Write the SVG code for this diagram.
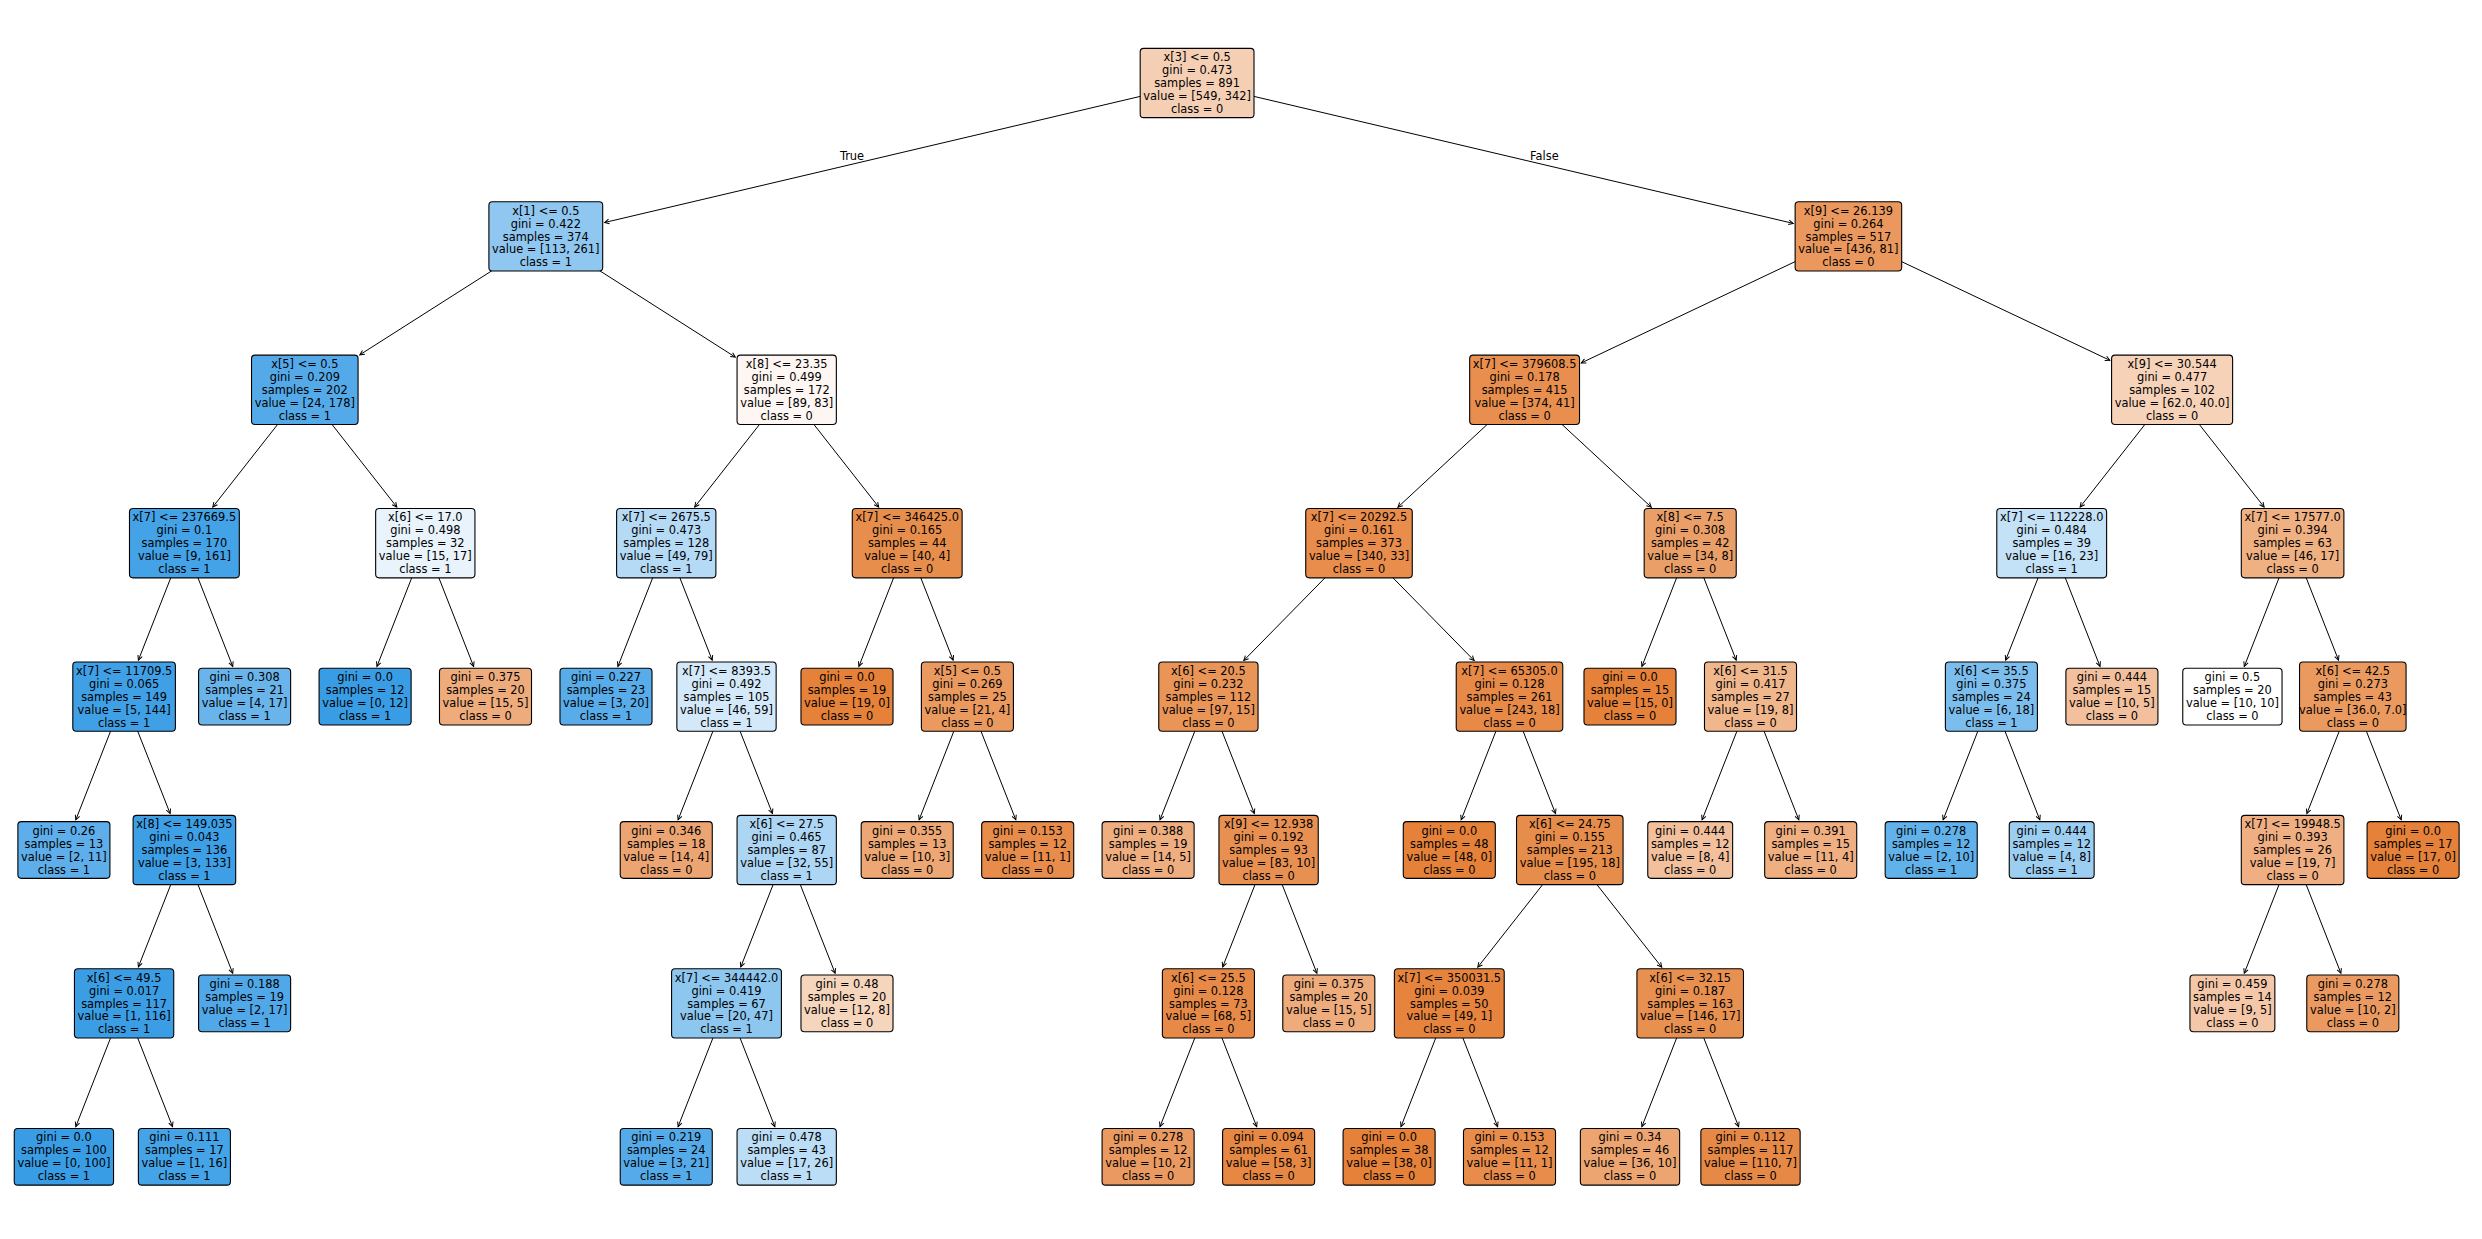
<svg xmlns="http://www.w3.org/2000/svg" width="2482" height="1239" viewBox="0 0 2482 1239">
<defs>
<style>
text{font-family:"DejaVu Sans","Liberation Sans",sans-serif;font-size:11.4px;text-anchor:middle;fill:#000}
rect.n{stroke:#000;stroke-width:1.1}
#edges line{stroke:#000;stroke-width:1;fill:none;marker-end:url(#ah)}
</style>
<marker id="ah" markerUnits="userSpaceOnUse" viewBox="-6 -3.5 7 7" markerWidth="7" markerHeight="7" refX="0" refY="0" orient="auto" overflow="visible">
<path d="M-4.56,-2.28 L0,0 L-4.56,2.28" fill="none" stroke="#000" stroke-width="1"/>
</marker>
</defs>
<rect x="0" y="0" width="2482" height="1239" fill="#fff"/>
<g id="edges">
<line x1="1197.1" y1="83" x2="604.65" y2="222.5"/>
<line x1="1197.1" y1="83" x2="1793.2" y2="223.4"/>
<line x1="545.8" y1="236.4" x2="359.8" y2="354.8"/>
<line x1="545.8" y1="236.4" x2="735.3" y2="357.1"/>
<line x1="304.8" y1="389.8" x2="212.8" y2="507.0"/>
<line x1="304.8" y1="389.8" x2="396.8" y2="507.0"/>
<line x1="786.7" y1="389.8" x2="694.7" y2="507.0"/>
<line x1="786.7" y1="389.8" x2="878.7" y2="507.0"/>
<line x1="1524.6" y1="389.8" x2="1397.9" y2="507.2"/>
<line x1="1524.6" y1="389.8" x2="1651.3" y2="507.2"/>
<line x1="1848.4" y1="236.4" x2="1581.3" y2="362.9"/>
<line x1="1848.4" y1="236.4" x2="2109.8" y2="360.3"/>
<line x1="2172.1" y1="389.8" x2="2080.1" y2="507.0"/>
<line x1="2172.1" y1="389.8" x2="2264.1" y2="507.0"/>
<line x1="184.4" y1="543.2" x2="138.4" y2="660.1"/>
<line x1="184.4" y1="543.2" x2="232.7" y2="666.4"/>
<line x1="425.3" y1="543.2" x2="376.96" y2="666.4"/>
<line x1="425.3" y1="543.2" x2="473.6" y2="666.4"/>
<line x1="666.25" y1="543.2" x2="617.9" y2="666.4"/>
<line x1="666.25" y1="543.2" x2="712.2" y2="660.1"/>
<line x1="907.2" y1="543.2" x2="858.9" y2="666.4"/>
<line x1="907.2" y1="543.2" x2="953.1" y2="660.1"/>
<line x1="1359.0" y1="543.2" x2="1243.8" y2="660.5"/>
<line x1="1359.0" y1="543.2" x2="1474.1" y2="660.5"/>
<line x1="1690.2" y1="543.2" x2="1641.9" y2="666.4"/>
<line x1="1690.2" y1="543.2" x2="1736.2" y2="660.1"/>
<line x1="2051.7" y1="543.2" x2="2005.7" y2="660.1"/>
<line x1="2051.7" y1="543.2" x2="2100.0" y2="666.4"/>
<line x1="2292.6" y1="543.2" x2="2244.3" y2="666.4"/>
<line x1="2292.6" y1="543.2" x2="2338.5" y2="660.1"/>
<line x1="124.1" y1="696.6" x2="75.8" y2="819.8"/>
<line x1="124.1" y1="696.6" x2="170.1" y2="813.5"/>
<line x1="726.5" y1="696.6" x2="678.1" y2="819.8"/>
<line x1="726.5" y1="696.6" x2="772.4" y2="813.5"/>
<line x1="967.4" y1="696.6" x2="919.1" y2="819.8"/>
<line x1="967.4" y1="696.6" x2="1015.8" y2="819.8"/>
<line x1="1208.4" y1="696.6" x2="1160.0" y2="819.8"/>
<line x1="1208.4" y1="696.6" x2="1254.3" y2="813.5"/>
<line x1="1509.5" y1="696.6" x2="1461.2" y2="819.8"/>
<line x1="1509.5" y1="696.6" x2="1555.5" y2="813.5"/>
<line x1="1750.5" y1="696.6" x2="1702.1" y2="819.8"/>
<line x1="1750.5" y1="696.6" x2="1798.8" y2="819.8"/>
<line x1="1991.4" y1="696.6" x2="1943.1" y2="819.8"/>
<line x1="1991.4" y1="696.6" x2="2039.8" y2="819.8"/>
<line x1="2352.8" y1="696.6" x2="2306.9" y2="813.5"/>
<line x1="2352.8" y1="696.6" x2="2401.2" y2="819.8"/>
<line x1="184.4" y1="850" x2="138.4" y2="966.9"/>
<line x1="184.4" y1="850" x2="232.7" y2="973.2"/>
<line x1="786.7" y1="850" x2="740.8" y2="966.9"/>
<line x1="786.7" y1="850" x2="835.1" y2="973.2"/>
<line x1="1268.6" y1="850" x2="1222.7" y2="966.9"/>
<line x1="1268.6" y1="850" x2="1316.9" y2="973.2"/>
<line x1="1569.8" y1="850" x2="1477.8" y2="967.2"/>
<line x1="1569.8" y1="850" x2="1661.7" y2="967.2"/>
<line x1="2292.6" y1="850" x2="2244.3" y2="973.2"/>
<line x1="2292.6" y1="850" x2="2340.9" y2="973.2"/>
<line x1="124.1" y1="1003.4" x2="75.8" y2="1126.6"/>
<line x1="124.1" y1="1003.4" x2="172.5" y2="1126.6"/>
<line x1="726.5" y1="1003.4" x2="678.1" y2="1126.6"/>
<line x1="726.5" y1="1003.4" x2="774.8" y2="1126.6"/>
<line x1="1208.4" y1="1003.4" x2="1160.0" y2="1126.6"/>
<line x1="1208.4" y1="1003.4" x2="1256.7" y2="1126.6"/>
<line x1="1449.3" y1="1003.4" x2="1401.0" y2="1126.6"/>
<line x1="1449.3" y1="1003.4" x2="1497.6" y2="1126.6"/>
<line x1="1690.2" y1="1003.4" x2="1641.9" y2="1126.6"/>
<line x1="1690.2" y1="1003.4" x2="1738.6" y2="1126.6"/>
</g>
<g id="edge-labels">
<text x="864.1" y="160.3" style="text-anchor:end">True</text>
<text x="1530.1" y="160.3" style="text-anchor:start">False</text>
</g>
<g id="nodes">
<g id="n0" transform="translate(1197.1,83)"><rect class="n" x="-56.9" y="-34.65" width="113.8" height="69.3" rx="3.5" fill="#f5cfb4"/><text y="-21.9"><tspan x="0">x[3] &lt;= 0.5</tspan><tspan x="0" dy="13">gini = 0.473</tspan><tspan x="0" dy="13">samples = 891</tspan><tspan x="0" dy="13">value = [549, 342]</tspan><tspan x="0" dy="13">class = 0</tspan></text></g>
<g id="n1" transform="translate(545.8,236.4)"><rect class="n" x="-56.9" y="-34.65" width="113.8" height="69.3" rx="3.5" fill="#8fc7f0"/><text y="-21.9"><tspan x="0">x[1] &lt;= 0.5</tspan><tspan x="0" dy="13">gini = 0.422</tspan><tspan x="0" dy="13">samples = 374</tspan><tspan x="0" dy="13">value = [113, 261]</tspan><tspan x="0" dy="13">class = 1</tspan></text></g>
<g id="n34" transform="translate(1848.4,236.4)"><rect class="n" x="-53.27" y="-34.65" width="106.54" height="69.3" rx="3.5" fill="#ea985e"/><text y="-21.9"><tspan x="0">x[9] &lt;= 26.139</tspan><tspan x="0" dy="13">gini = 0.264</tspan><tspan x="0" dy="13">samples = 517</tspan><tspan x="0" dy="13">value = [436, 81]</tspan><tspan x="0" dy="13">class = 0</tspan></text></g>
<g id="n2" transform="translate(304.8,389.8)"><rect class="n" x="-53.27" y="-34.65" width="106.54" height="69.3" rx="3.5" fill="#54aae9"/><text y="-21.9"><tspan x="0">x[5] &lt;= 0.5</tspan><tspan x="0" dy="13">gini = 0.209</tspan><tspan x="0" dy="13">samples = 202</tspan><tspan x="0" dy="13">value = [24, 178]</tspan><tspan x="0" dy="13">class = 1</tspan></text></g>
<g id="n17" transform="translate(786.7,389.8)"><rect class="n" x="-49.645" y="-34.65" width="99.29" height="69.3" rx="3.5" fill="#fdf6f2"/><text y="-21.9"><tspan x="0">x[8] &lt;= 23.35</tspan><tspan x="0" dy="13">gini = 0.499</tspan><tspan x="0" dy="13">samples = 172</tspan><tspan x="0" dy="13">value = [89, 83]</tspan><tspan x="0" dy="13">class = 0</tspan></text></g>
<g id="n35" transform="translate(1524.6,389.8)"><rect class="n" x="-54.92" y="-34.65" width="109.84" height="69.3" rx="3.5" fill="#e88f4f"/><text y="-21.9"><tspan x="0">x[7] &lt;= 379608.5</tspan><tspan x="0" dy="13">gini = 0.178</tspan><tspan x="0" dy="13">samples = 415</tspan><tspan x="0" dy="13">value = [374, 41]</tspan><tspan x="0" dy="13">class = 0</tspan></text></g>
<g id="n56" transform="translate(2172.1,389.8)"><rect class="n" x="-60.52" y="-34.65" width="121.04" height="69.3" rx="3.5" fill="#f6d2b9"/><text y="-21.9"><tspan x="0">x[9] &lt;= 30.544</tspan><tspan x="0" dy="13">gini = 0.477</tspan><tspan x="0" dy="13">samples = 102</tspan><tspan x="0" dy="13">value = [62.0, 40.0]</tspan><tspan x="0" dy="13">class = 0</tspan></text></g>
<g id="n3" transform="translate(184.4,543.2)"><rect class="n" x="-54.92" y="-34.65" width="109.84" height="69.3" rx="3.5" fill="#44a2e6"/><text y="-21.9"><tspan x="0">x[7] &lt;= 237669.5</tspan><tspan x="0" dy="13">gini = 0.1</tspan><tspan x="0" dy="13">samples = 170</tspan><tspan x="0" dy="13">value = [9, 161]</tspan><tspan x="0" dy="13">class = 1</tspan></text></g>
<g id="n14" transform="translate(425.3,543.2)"><rect class="n" x="-49.645" y="-34.65" width="99.29" height="69.3" rx="3.5" fill="#e8f3fc"/><text y="-21.9"><tspan x="0">x[6] &lt;= 17.0</tspan><tspan x="0" dy="13">gini = 0.498</tspan><tspan x="0" dy="13">samples = 32</tspan><tspan x="0" dy="13">value = [15, 17]</tspan><tspan x="0" dy="13">class = 1</tspan></text></g>
<g id="n18" transform="translate(666.25,543.2)"><rect class="n" x="-49.645" y="-34.65" width="99.29" height="69.3" rx="3.5" fill="#b4daf5"/><text y="-21.9"><tspan x="0">x[7] &lt;= 2675.5</tspan><tspan x="0" dy="13">gini = 0.473</tspan><tspan x="0" dy="13">samples = 128</tspan><tspan x="0" dy="13">value = [49, 79]</tspan><tspan x="0" dy="13">class = 1</tspan></text></g>
<g id="n29" transform="translate(907.2,543.2)"><rect class="n" x="-54.92" y="-34.65" width="109.84" height="69.3" rx="3.5" fill="#e88e4d"/><text y="-21.9"><tspan x="0">x[7] &lt;= 346425.0</tspan><tspan x="0" dy="13">gini = 0.165</tspan><tspan x="0" dy="13">samples = 44</tspan><tspan x="0" dy="13">value = [40, 4]</tspan><tspan x="0" dy="13">class = 0</tspan></text></g>
<g id="n36" transform="translate(1359.0,543.2)"><rect class="n" x="-53.27" y="-34.65" width="106.54" height="69.3" rx="3.5" fill="#e88d4c"/><text y="-21.9"><tspan x="0">x[7] &lt;= 20292.5</tspan><tspan x="0" dy="13">gini = 0.161</tspan><tspan x="0" dy="13">samples = 373</tspan><tspan x="0" dy="13">value = [340, 33]</tspan><tspan x="0" dy="13">class = 0</tspan></text></g>
<g id="n51" transform="translate(1690.2,543.2)"><rect class="n" x="-46.02" y="-34.65" width="92.04" height="69.3" rx="3.5" fill="#eb9f68"/><text y="-21.9"><tspan x="0">x[8] &lt;= 7.5</tspan><tspan x="0" dy="13">gini = 0.308</tspan><tspan x="0" dy="13">samples = 42</tspan><tspan x="0" dy="13">value = [34, 8]</tspan><tspan x="0" dy="13">class = 0</tspan></text></g>
<g id="n57" transform="translate(2051.7,543.2)"><rect class="n" x="-54.92" y="-34.65" width="109.84" height="69.3" rx="3.5" fill="#c3e1f7"/><text y="-21.9"><tspan x="0">x[7] &lt;= 112228.0</tspan><tspan x="0" dy="13">gini = 0.484</tspan><tspan x="0" dy="13">samples = 39</tspan><tspan x="0" dy="13">value = [16, 23]</tspan><tspan x="0" dy="13">class = 1</tspan></text></g>
<g id="n62" transform="translate(2292.6,543.2)"><rect class="n" x="-51.295" y="-34.65" width="102.59" height="69.3" rx="3.5" fill="#efb082"/><text y="-21.9"><tspan x="0">x[7] &lt;= 17577.0</tspan><tspan x="0" dy="13">gini = 0.394</tspan><tspan x="0" dy="13">samples = 63</tspan><tspan x="0" dy="13">value = [46, 17]</tspan><tspan x="0" dy="13">class = 0</tspan></text></g>
<g id="n4" transform="translate(124.1,696.6)"><rect class="n" x="-51.295" y="-34.65" width="102.59" height="69.3" rx="3.5" fill="#40a0e6"/><text y="-21.9"><tspan x="0">x[7] &lt;= 11709.5</tspan><tspan x="0" dy="13">gini = 0.065</tspan><tspan x="0" dy="13">samples = 149</tspan><tspan x="0" dy="13">value = [5, 144]</tspan><tspan x="0" dy="13">class = 1</tspan></text></g>
<g id="n13" transform="translate(244.6,696.6)"><rect class="n" x="-46.02" y="-28.35" width="92.04" height="56.7" rx="3.5" fill="#68b4eb"/><text y="-15.4"><tspan x="0">gini = 0.308</tspan><tspan x="0" dy="13">samples = 21</tspan><tspan x="0" dy="13">value = [4, 17]</tspan><tspan x="0" dy="13">class = 1</tspan></text></g>
<g id="n15" transform="translate(365.1,696.6)"><rect class="n" x="-46.02" y="-28.35" width="92.04" height="56.7" rx="3.5" fill="#399de5"/><text y="-15.4"><tspan x="0">gini = 0.0</tspan><tspan x="0" dy="13">samples = 12</tspan><tspan x="0" dy="13">value = [0, 12]</tspan><tspan x="0" dy="13">class = 1</tspan></text></g>
<g id="n16" transform="translate(485.5,696.6)"><rect class="n" x="-46.02" y="-28.35" width="92.04" height="56.7" rx="3.5" fill="#eeab7b"/><text y="-15.4"><tspan x="0">gini = 0.375</tspan><tspan x="0" dy="13">samples = 20</tspan><tspan x="0" dy="13">value = [15, 5]</tspan><tspan x="0" dy="13">class = 0</tspan></text></g>
<g id="n19" transform="translate(606.0,696.6)"><rect class="n" x="-46.02" y="-28.35" width="92.04" height="56.7" rx="3.5" fill="#57ace9"/><text y="-15.4"><tspan x="0">gini = 0.227</tspan><tspan x="0" dy="13">samples = 23</tspan><tspan x="0" dy="13">value = [3, 20]</tspan><tspan x="0" dy="13">class = 1</tspan></text></g>
<g id="n20" transform="translate(726.5,696.6)"><rect class="n" x="-49.645" y="-34.65" width="99.29" height="69.3" rx="3.5" fill="#d3e9f9"/><text y="-21.9"><tspan x="0">x[7] &lt;= 8393.5</tspan><tspan x="0" dy="13">gini = 0.492</tspan><tspan x="0" dy="13">samples = 105</tspan><tspan x="0" dy="13">value = [46, 59]</tspan><tspan x="0" dy="13">class = 1</tspan></text></g>
<g id="n30" transform="translate(847.0,696.6)"><rect class="n" x="-46.02" y="-28.35" width="92.04" height="56.7" rx="3.5" fill="#e58139"/><text y="-15.4"><tspan x="0">gini = 0.0</tspan><tspan x="0" dy="13">samples = 19</tspan><tspan x="0" dy="13">value = [19, 0]</tspan><tspan x="0" dy="13">class = 0</tspan></text></g>
<g id="n31" transform="translate(967.4,696.6)"><rect class="n" x="-46.02" y="-34.65" width="92.04" height="69.3" rx="3.5" fill="#ea995f"/><text y="-21.9"><tspan x="0">x[5] &lt;= 0.5</tspan><tspan x="0" dy="13">gini = 0.269</tspan><tspan x="0" dy="13">samples = 25</tspan><tspan x="0" dy="13">value = [21, 4]</tspan><tspan x="0" dy="13">class = 0</tspan></text></g>
<g id="n37" transform="translate(1208.4,696.6)"><rect class="n" x="-49.645" y="-34.65" width="99.29" height="69.3" rx="3.5" fill="#e99558"/><text y="-21.9"><tspan x="0">x[6] &lt;= 20.5</tspan><tspan x="0" dy="13">gini = 0.232</tspan><tspan x="0" dy="13">samples = 112</tspan><tspan x="0" dy="13">value = [97, 15]</tspan><tspan x="0" dy="13">class = 0</tspan></text></g>
<g id="n44" transform="translate(1509.5,696.6)"><rect class="n" x="-53.27" y="-34.65" width="106.54" height="69.3" rx="3.5" fill="#e78a48"/><text y="-21.9"><tspan x="0">x[7] &lt;= 65305.0</tspan><tspan x="0" dy="13">gini = 0.128</tspan><tspan x="0" dy="13">samples = 261</tspan><tspan x="0" dy="13">value = [243, 18]</tspan><tspan x="0" dy="13">class = 0</tspan></text></g>
<g id="n52" transform="translate(1630.0,696.6)"><rect class="n" x="-46.02" y="-28.35" width="92.04" height="56.7" rx="3.5" fill="#e58139"/><text y="-15.4"><tspan x="0">gini = 0.0</tspan><tspan x="0" dy="13">samples = 15</tspan><tspan x="0" dy="13">value = [15, 0]</tspan><tspan x="0" dy="13">class = 0</tspan></text></g>
<g id="n53" transform="translate(1750.5,696.6)"><rect class="n" x="-46.02" y="-34.65" width="92.04" height="69.3" rx="3.5" fill="#f0b68c"/><text y="-21.9"><tspan x="0">x[6] &lt;= 31.5</tspan><tspan x="0" dy="13">gini = 0.417</tspan><tspan x="0" dy="13">samples = 27</tspan><tspan x="0" dy="13">value = [19, 8]</tspan><tspan x="0" dy="13">class = 0</tspan></text></g>
<g id="n58" transform="translate(1991.4,696.6)"><rect class="n" x="-46.02" y="-34.65" width="92.04" height="69.3" rx="3.5" fill="#7bbeee"/><text y="-21.9"><tspan x="0">x[6] &lt;= 35.5</tspan><tspan x="0" dy="13">gini = 0.375</tspan><tspan x="0" dy="13">samples = 24</tspan><tspan x="0" dy="13">value = [6, 18]</tspan><tspan x="0" dy="13">class = 1</tspan></text></g>
<g id="n61" transform="translate(2111.9,696.6)"><rect class="n" x="-46.02" y="-28.35" width="92.04" height="56.7" rx="3.5" fill="#f2c09c"/><text y="-15.4"><tspan x="0">gini = 0.444</tspan><tspan x="0" dy="13">samples = 15</tspan><tspan x="0" dy="13">value = [10, 5]</tspan><tspan x="0" dy="13">class = 0</tspan></text></g>
<g id="n63" transform="translate(2232.4,696.6)"><rect class="n" x="-49.645" y="-28.35" width="99.29" height="56.7" rx="3.5" fill="#ffffff"/><text y="-15.4"><tspan x="0">gini = 0.5</tspan><tspan x="0" dy="13">samples = 20</tspan><tspan x="0" dy="13">value = [10, 10]</tspan><tspan x="0" dy="13">class = 0</tspan></text></g>
<g id="n64" transform="translate(2352.8,696.6)"><rect class="n" x="-53.27" y="-34.65" width="106.54" height="69.3" rx="3.5" fill="#ea9a5f"/><text y="-21.9"><tspan x="0">x[6] &lt;= 42.5</tspan><tspan x="0" dy="13">gini = 0.273</tspan><tspan x="0" dy="13">samples = 43</tspan><tspan x="0" dy="13">value = [36.0, 7.0]</tspan><tspan x="0" dy="13">class = 0</tspan></text></g>
<g id="n5" transform="translate(63.9,850)"><rect class="n" x="-46.02" y="-28.35" width="92.04" height="56.7" rx="3.5" fill="#5daeea"/><text y="-15.4"><tspan x="0">gini = 0.26</tspan><tspan x="0" dy="13">samples = 13</tspan><tspan x="0" dy="13">value = [2, 11]</tspan><tspan x="0" dy="13">class = 1</tspan></text></g>
<g id="n6" transform="translate(184.4,850)"><rect class="n" x="-51.295" y="-34.65" width="102.59" height="69.3" rx="3.5" fill="#3d9fe6"/><text y="-21.9"><tspan x="0">x[8] &lt;= 149.035</tspan><tspan x="0" dy="13">gini = 0.043</tspan><tspan x="0" dy="13">samples = 136</tspan><tspan x="0" dy="13">value = [3, 133]</tspan><tspan x="0" dy="13">class = 1</tspan></text></g>
<g id="n21" transform="translate(666.25,850)"><rect class="n" x="-46.02" y="-28.35" width="92.04" height="56.7" rx="3.5" fill="#eca572"/><text y="-15.4"><tspan x="0">gini = 0.346</tspan><tspan x="0" dy="13">samples = 18</tspan><tspan x="0" dy="13">value = [14, 4]</tspan><tspan x="0" dy="13">class = 0</tspan></text></g>
<g id="n22" transform="translate(786.7,850)"><rect class="n" x="-49.645" y="-34.65" width="99.29" height="69.3" rx="3.5" fill="#acd6f4"/><text y="-21.9"><tspan x="0">x[6] &lt;= 27.5</tspan><tspan x="0" dy="13">gini = 0.465</tspan><tspan x="0" dy="13">samples = 87</tspan><tspan x="0" dy="13">value = [32, 55]</tspan><tspan x="0" dy="13">class = 1</tspan></text></g>
<g id="n32" transform="translate(907.2,850)"><rect class="n" x="-46.02" y="-28.35" width="92.04" height="56.7" rx="3.5" fill="#eda774"/><text y="-15.4"><tspan x="0">gini = 0.355</tspan><tspan x="0" dy="13">samples = 13</tspan><tspan x="0" dy="13">value = [10, 3]</tspan><tspan x="0" dy="13">class = 0</tspan></text></g>
<g id="n33" transform="translate(1027.7,850)"><rect class="n" x="-46.02" y="-28.35" width="92.04" height="56.7" rx="3.5" fill="#e78c4b"/><text y="-15.4"><tspan x="0">gini = 0.153</tspan><tspan x="0" dy="13">samples = 12</tspan><tspan x="0" dy="13">value = [11, 1]</tspan><tspan x="0" dy="13">class = 0</tspan></text></g>
<g id="n38" transform="translate(1148.1,850)"><rect class="n" x="-46.02" y="-28.35" width="92.04" height="56.7" rx="3.5" fill="#eeae80"/><text y="-15.4"><tspan x="0">gini = 0.388</tspan><tspan x="0" dy="13">samples = 19</tspan><tspan x="0" dy="13">value = [14, 5]</tspan><tspan x="0" dy="13">class = 0</tspan></text></g>
<g id="n39" transform="translate(1268.6,850)"><rect class="n" x="-49.645" y="-34.65" width="99.29" height="69.3" rx="3.5" fill="#e89051"/><text y="-21.9"><tspan x="0">x[9] &lt;= 12.938</tspan><tspan x="0" dy="13">gini = 0.192</tspan><tspan x="0" dy="13">samples = 93</tspan><tspan x="0" dy="13">value = [83, 10]</tspan><tspan x="0" dy="13">class = 0</tspan></text></g>
<g id="n45" transform="translate(1449.3,850)"><rect class="n" x="-46.02" y="-28.35" width="92.04" height="56.7" rx="3.5" fill="#e58139"/><text y="-15.4"><tspan x="0">gini = 0.0</tspan><tspan x="0" dy="13">samples = 48</tspan><tspan x="0" dy="13">value = [48, 0]</tspan><tspan x="0" dy="13">class = 0</tspan></text></g>
<g id="n46" transform="translate(1569.8,850)"><rect class="n" x="-53.27" y="-34.65" width="106.54" height="69.3" rx="3.5" fill="#e78d4b"/><text y="-21.9"><tspan x="0">x[6] &lt;= 24.75</tspan><tspan x="0" dy="13">gini = 0.155</tspan><tspan x="0" dy="13">samples = 213</tspan><tspan x="0" dy="13">value = [195, 18]</tspan><tspan x="0" dy="13">class = 0</tspan></text></g>
<g id="n54" transform="translate(1690.2,850)"><rect class="n" x="-42.445" y="-28.35" width="84.89" height="56.7" rx="3.5" fill="#f2c09c"/><text y="-15.4"><tspan x="0">gini = 0.444</tspan><tspan x="0" dy="13">samples = 12</tspan><tspan x="0" dy="13">value = [8, 4]</tspan><tspan x="0" dy="13">class = 0</tspan></text></g>
<g id="n55" transform="translate(1810.7,850)"><rect class="n" x="-46.02" y="-28.35" width="92.04" height="56.7" rx="3.5" fill="#efaf81"/><text y="-15.4"><tspan x="0">gini = 0.391</tspan><tspan x="0" dy="13">samples = 15</tspan><tspan x="0" dy="13">value = [11, 4]</tspan><tspan x="0" dy="13">class = 0</tspan></text></g>
<g id="n59" transform="translate(1931.2,850)"><rect class="n" x="-46.02" y="-28.35" width="92.04" height="56.7" rx="3.5" fill="#61b1ea"/><text y="-15.4"><tspan x="0">gini = 0.278</tspan><tspan x="0" dy="13">samples = 12</tspan><tspan x="0" dy="13">value = [2, 10]</tspan><tspan x="0" dy="13">class = 1</tspan></text></g>
<g id="n60" transform="translate(2051.7,850)"><rect class="n" x="-42.445" y="-28.35" width="84.89" height="56.7" rx="3.5" fill="#9ccef2"/><text y="-15.4"><tspan x="0">gini = 0.444</tspan><tspan x="0" dy="13">samples = 12</tspan><tspan x="0" dy="13">value = [4, 8]</tspan><tspan x="0" dy="13">class = 1</tspan></text></g>
<g id="n65" transform="translate(2292.6,850)"><rect class="n" x="-51.295" y="-34.65" width="102.59" height="69.3" rx="3.5" fill="#efaf82"/><text y="-21.9"><tspan x="0">x[7] &lt;= 19948.5</tspan><tspan x="0" dy="13">gini = 0.393</tspan><tspan x="0" dy="13">samples = 26</tspan><tspan x="0" dy="13">value = [19, 7]</tspan><tspan x="0" dy="13">class = 0</tspan></text></g>
<g id="n68" transform="translate(2413.1,850)"><rect class="n" x="-46.02" y="-28.35" width="92.04" height="56.7" rx="3.5" fill="#e58139"/><text y="-15.4"><tspan x="0">gini = 0.0</tspan><tspan x="0" dy="13">samples = 17</tspan><tspan x="0" dy="13">value = [17, 0]</tspan><tspan x="0" dy="13">class = 0</tspan></text></g>
<g id="n7" transform="translate(124.1,1003.4)"><rect class="n" x="-49.645" y="-34.65" width="99.29" height="69.3" rx="3.5" fill="#3b9ee5"/><text y="-21.9"><tspan x="0">x[6] &lt;= 49.5</tspan><tspan x="0" dy="13">gini = 0.017</tspan><tspan x="0" dy="13">samples = 117</tspan><tspan x="0" dy="13">value = [1, 116]</tspan><tspan x="0" dy="13">class = 1</tspan></text></g>
<g id="n10" transform="translate(244.6,1003.4)"><rect class="n" x="-46.02" y="-28.35" width="92.04" height="56.7" rx="3.5" fill="#50a8e8"/><text y="-15.4"><tspan x="0">gini = 0.188</tspan><tspan x="0" dy="13">samples = 19</tspan><tspan x="0" dy="13">value = [2, 17]</tspan><tspan x="0" dy="13">class = 1</tspan></text></g>
<g id="n23" transform="translate(726.5,1003.4)"><rect class="n" x="-54.92" y="-34.65" width="109.84" height="69.3" rx="3.5" fill="#8dc7f0"/><text y="-21.9"><tspan x="0">x[7] &lt;= 344442.0</tspan><tspan x="0" dy="13">gini = 0.419</tspan><tspan x="0" dy="13">samples = 67</tspan><tspan x="0" dy="13">value = [20, 47]</tspan><tspan x="0" dy="13">class = 1</tspan></text></g>
<g id="n26" transform="translate(847.0,1003.4)"><rect class="n" x="-46.02" y="-28.35" width="92.04" height="56.7" rx="3.5" fill="#f6d5bd"/><text y="-15.4"><tspan x="0">gini = 0.48</tspan><tspan x="0" dy="13">samples = 20</tspan><tspan x="0" dy="13">value = [12, 8]</tspan><tspan x="0" dy="13">class = 0</tspan></text></g>
<g id="n40" transform="translate(1208.4,1003.4)"><rect class="n" x="-46.02" y="-34.65" width="92.04" height="69.3" rx="3.5" fill="#e78a48"/><text y="-21.9"><tspan x="0">x[6] &lt;= 25.5</tspan><tspan x="0" dy="13">gini = 0.128</tspan><tspan x="0" dy="13">samples = 73</tspan><tspan x="0" dy="13">value = [68, 5]</tspan><tspan x="0" dy="13">class = 0</tspan></text></g>
<g id="n43" transform="translate(1328.8,1003.4)"><rect class="n" x="-46.02" y="-28.35" width="92.04" height="56.7" rx="3.5" fill="#eeab7b"/><text y="-15.4"><tspan x="0">gini = 0.375</tspan><tspan x="0" dy="13">samples = 20</tspan><tspan x="0" dy="13">value = [15, 5]</tspan><tspan x="0" dy="13">class = 0</tspan></text></g>
<g id="n47" transform="translate(1449.3,1003.4)"><rect class="n" x="-54.92" y="-34.65" width="109.84" height="69.3" rx="3.5" fill="#e6843d"/><text y="-21.9"><tspan x="0">x[7] &lt;= 350031.5</tspan><tspan x="0" dy="13">gini = 0.039</tspan><tspan x="0" dy="13">samples = 50</tspan><tspan x="0" dy="13">value = [49, 1]</tspan><tspan x="0" dy="13">class = 0</tspan></text></g>
<g id="n50" transform="translate(1690.2,1003.4)"><rect class="n" x="-53.27" y="-34.65" width="106.54" height="69.3" rx="3.5" fill="#e89050"/><text y="-21.9"><tspan x="0">x[6] &lt;= 32.15</tspan><tspan x="0" dy="13">gini = 0.187</tspan><tspan x="0" dy="13">samples = 163</tspan><tspan x="0" dy="13">value = [146, 17]</tspan><tspan x="0" dy="13">class = 0</tspan></text></g>
<g id="n66" transform="translate(2232.4,1003.4)"><rect class="n" x="-42.445" y="-28.35" width="84.89" height="56.7" rx="3.5" fill="#f3c7a7"/><text y="-15.4"><tspan x="0">gini = 0.459</tspan><tspan x="0" dy="13">samples = 14</tspan><tspan x="0" dy="13">value = [9, 5]</tspan><tspan x="0" dy="13">class = 0</tspan></text></g>
<g id="n67" transform="translate(2352.8,1003.4)"><rect class="n" x="-46.02" y="-28.35" width="92.04" height="56.7" rx="3.5" fill="#ea9a61"/><text y="-15.4"><tspan x="0">gini = 0.278</tspan><tspan x="0" dy="13">samples = 12</tspan><tspan x="0" dy="13">value = [10, 2]</tspan><tspan x="0" dy="13">class = 0</tspan></text></g>
<g id="n8" transform="translate(63.9,1156.8)"><rect class="n" x="-49.645" y="-28.35" width="99.29" height="56.7" rx="3.5" fill="#399de5"/><text y="-15.4"><tspan x="0">gini = 0.0</tspan><tspan x="0" dy="13">samples = 100</tspan><tspan x="0" dy="13">value = [0, 100]</tspan><tspan x="0" dy="13">class = 1</tspan></text></g>
<g id="n9" transform="translate(184.4,1156.8)"><rect class="n" x="-46.02" y="-28.35" width="92.04" height="56.7" rx="3.5" fill="#45a3e7"/><text y="-15.4"><tspan x="0">gini = 0.111</tspan><tspan x="0" dy="13">samples = 17</tspan><tspan x="0" dy="13">value = [1, 16]</tspan><tspan x="0" dy="13">class = 1</tspan></text></g>
<g id="n24" transform="translate(666.25,1156.8)"><rect class="n" x="-46.02" y="-28.35" width="92.04" height="56.7" rx="3.5" fill="#55abe9"/><text y="-15.4"><tspan x="0">gini = 0.219</tspan><tspan x="0" dy="13">samples = 24</tspan><tspan x="0" dy="13">value = [3, 21]</tspan><tspan x="0" dy="13">class = 1</tspan></text></g>
<g id="n25" transform="translate(786.7,1156.8)"><rect class="n" x="-49.645" y="-28.35" width="99.29" height="56.7" rx="3.5" fill="#bbddf6"/><text y="-15.4"><tspan x="0">gini = 0.478</tspan><tspan x="0" dy="13">samples = 43</tspan><tspan x="0" dy="13">value = [17, 26]</tspan><tspan x="0" dy="13">class = 1</tspan></text></g>
<g id="n41" transform="translate(1148.1,1156.8)"><rect class="n" x="-46.02" y="-28.35" width="92.04" height="56.7" rx="3.5" fill="#ea9a61"/><text y="-15.4"><tspan x="0">gini = 0.278</tspan><tspan x="0" dy="13">samples = 12</tspan><tspan x="0" dy="13">value = [10, 2]</tspan><tspan x="0" dy="13">class = 0</tspan></text></g>
<g id="n42" transform="translate(1268.6,1156.8)"><rect class="n" x="-46.02" y="-28.35" width="92.04" height="56.7" rx="3.5" fill="#e68843"/><text y="-15.4"><tspan x="0">gini = 0.094</tspan><tspan x="0" dy="13">samples = 61</tspan><tspan x="0" dy="13">value = [58, 3]</tspan><tspan x="0" dy="13">class = 0</tspan></text></g>
<g id="n48" transform="translate(1389.1,1156.8)"><rect class="n" x="-46.02" y="-28.35" width="92.04" height="56.7" rx="3.5" fill="#e58139"/><text y="-15.4"><tspan x="0">gini = 0.0</tspan><tspan x="0" dy="13">samples = 38</tspan><tspan x="0" dy="13">value = [38, 0]</tspan><tspan x="0" dy="13">class = 0</tspan></text></g>
<g id="n49" transform="translate(1509.5,1156.8)"><rect class="n" x="-46.02" y="-28.35" width="92.04" height="56.7" rx="3.5" fill="#e78c4b"/><text y="-15.4"><tspan x="0">gini = 0.153</tspan><tspan x="0" dy="13">samples = 12</tspan><tspan x="0" dy="13">value = [11, 1]</tspan><tspan x="0" dy="13">class = 0</tspan></text></g>
<g id="n50a" transform="translate(1630.0,1156.8)"><rect class="n" x="-49.645" y="-28.35" width="99.29" height="56.7" rx="3.5" fill="#eca470"/><text y="-15.4"><tspan x="0">gini = 0.34</tspan><tspan x="0" dy="13">samples = 46</tspan><tspan x="0" dy="13">value = [36, 10]</tspan><tspan x="0" dy="13">class = 0</tspan></text></g>
<g id="n50b" transform="translate(1750.5,1156.8)"><rect class="n" x="-49.645" y="-28.35" width="99.29" height="56.7" rx="3.5" fill="#e78946"/><text y="-15.4"><tspan x="0">gini = 0.112</tspan><tspan x="0" dy="13">samples = 117</tspan><tspan x="0" dy="13">value = [110, 7]</tspan><tspan x="0" dy="13">class = 0</tspan></text></g>
</g>
</svg>
